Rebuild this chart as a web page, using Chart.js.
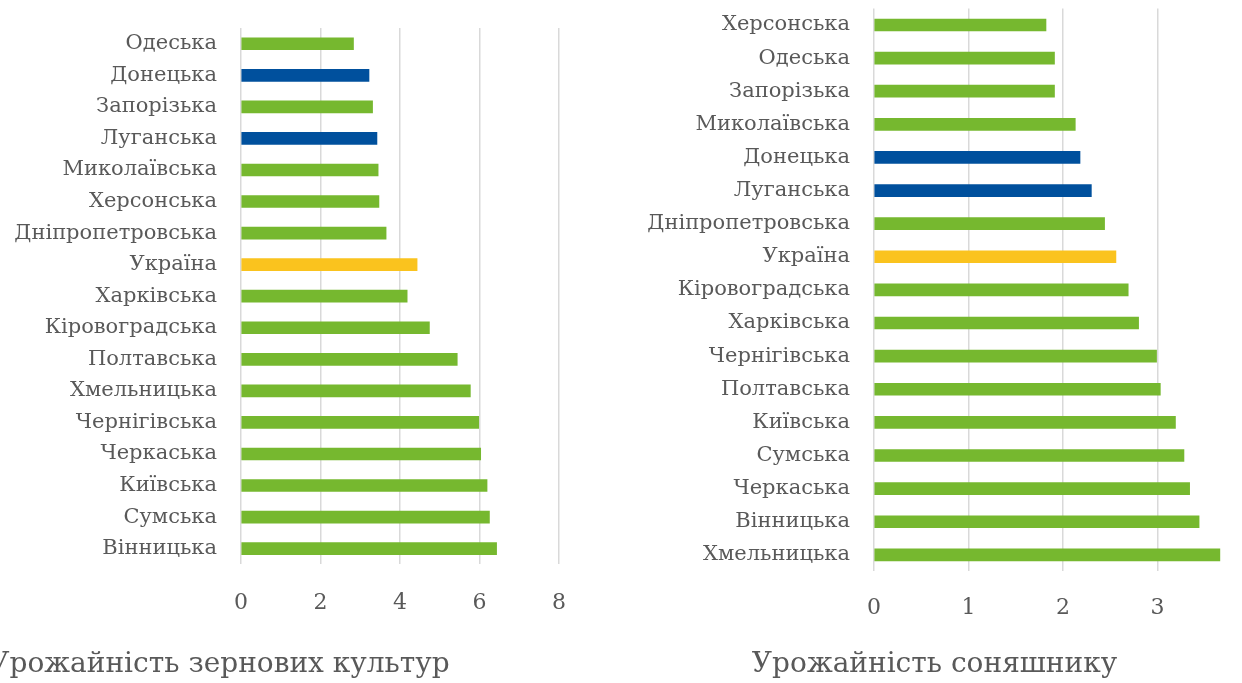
<!DOCTYPE html>
<html>
<head>
<meta charset="utf-8">
<script src="https://cdn.jsdelivr.net/npm/chart.js@4/dist/chart.umd.min.js"></script>
<style>
    html, body { margin: 0; padding: 0; background: #fff; overflow: hidden; width: 1242px; height: 683px; }
    .box { position: absolute; top: 0; height: 683px; }
    #grainBox { left: -126px; width: 692px; }
    #sunBox { left: 611px; width: 648px; }
</style>
</head>
<body>
<div class="box" id="grainBox"><canvas id="grainChart"></canvas></div>
<div class="box" id="sunBox"><canvas id="sunChart"></canvas></div>
<script>
// Урожайність зернових культур
const grainRegions = ['Одеська', 'Донецька', 'Запорізька', 'Луганська', 'Миколаївська', 'Херсонська',
    'Дніпропетровська', 'Україна', 'Харківська', 'Кіровоградська', 'Полтавська', 'Хмельницька',
    'Чернігівська', 'Черкаська', 'Київська', 'Сумська', 'Вінницька'];
const grainValues = [2.83, 3.22, 3.31, 3.42, 3.45, 3.47, 3.65, 4.43, 4.18, 4.74, 5.44, 5.77, 5.98, 6.03, 6.19, 6.25, 6.43];
const grainTicks = [0, 2, 4, 6, 8];

// Урожайність соняшнику
const sunRegions = ['Херсонська', 'Одеська', 'Запорізька', 'Миколаївська', 'Донецька', 'Луганська',
    'Дніпропетровська', 'Україна', 'Кіровоградська', 'Харківська', 'Чернігівська', 'Полтавська',
    'Київська', 'Сумська', 'Черкаська', 'Вінницька', 'Хмельницька'];
const sunValues = [1.82, 1.91, 1.91, 2.13, 2.18, 2.30, 2.44, 2.56, 2.69, 2.80, 2.99, 3.03, 3.19, 3.28, 3.34, 3.44, 3.66];
const sunTicks = [0, 1, 2, 3, 4];

const GREEN = '#76b82f';
const BLUE = '#00509d';
const YELLOW = '#fac31e';
const TEXT = '#595959';
const FONT = "'DejaVu Serif', 'Liberation Serif', serif";

function barColor(name) {
    if (name === 'Україна') return YELLOW;
    if (name === 'Донецька' || name === 'Луганська') return BLUE;
    return GREEN;
}

function makeChart(id, cfg) {
    const ctx = document.getElementById(id).getContext('2d');
    return new Chart(ctx, {
        type: 'bar',
        data: {
            labels: cfg.labels,
            datasets: [{
                data: cfg.values,
                backgroundColor: cfg.labels.map(barColor),
                barThickness: 12,
                borderWidth: 0
            }]
        },
        options: {
            indexAxis: 'y',
            responsive: true,
            maintainAspectRatio: false,
            animation: false,
            layout: { padding: { top: cfg.top, right: 1, bottom: 0, left: 0 } },
            plugins: {
                legend: { display: false },
                tooltip: { enabled: false },
                title: {
                    display: true,
                    text: cfg.title,
                    position: 'bottom',
                    color: TEXT,
                    font: { family: FONT, size: 28, weight: 'normal' },
                    padding: { top: 10, bottom: 1 }
                }
            },
            scales: {
                x: {
                    min: 0,
                    max: cfg.ticks[cfg.ticks.length - 1],
                    afterBuildTicks: axis => { axis.ticks = cfg.ticks.map(v => ({ value: v })); },
                    afterFit: axis => { axis.height = cfg.xHeight; },
                    // invisible tick marks keep the labels away from the plot
                    grid: { color: '#d9d9d9', lineWidth: 1.5, drawTicks: true, tickLength: cfg.tickPad, tickColor: 'transparent' },
                    border: { display: false },
                    ticks: {
                        color: TEXT,
                        padding: 0,
                        font: { family: FONT, size: 22 }
                    }
                },
                y: {
                    afterFit: axis => { axis.width = cfg.yWidth; },
                    grid: { color: 'transparent', drawTicks: true, tickLength: 24, tickColor: 'transparent' },
                    border: { display: false },
                    ticks: {
                        color: TEXT,
                        padding: 0,
                        autoSkip: false,
                        font: { family: FONT, size: 21, lineHeight: 0.8 }
                    }
                }
            }
        }
    });
}

makeChart('grainChart', {
    labels: grainRegions,
    values: grainValues,
    ticks: grainTicks,
    title: 'Урожайність зернових культур',
    top: 28,
    xHeight: 74,
    yWidth: 367,
    tickPad: 26
});

makeChart('sunChart', {
    labels: sunRegions,
    values: sunValues,
    ticks: sunTicks,
    title: 'Урожайність соняшнику',
    top: 8,
    xHeight: 67,
    yWidth: 263,
    tickPad: 24
});
</script>
</body>
</html>
